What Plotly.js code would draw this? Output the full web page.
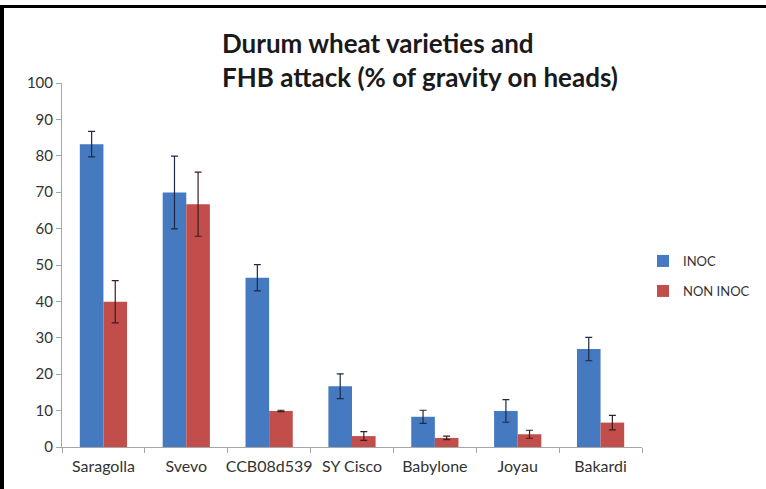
<!DOCTYPE html>
<html>
<head>
<meta charset="utf-8">
<script src="https://cdn.plot.ly/plotly-3.0.1.min.js"></script>
<style>
  html, body { margin: 0; padding: 0; background: #fff; }
  #wrap { position: relative; width: 766px; height: 489px; }
  #chart { width: 766px; height: 489px; }
  .bl { position: absolute; background: #000; }
</style>
</head>
<body>
<div id="wrap">
  <div id="chart"></div>
  <div class="bl" style="left:0;top:5px;width:4px;height:484px;"></div>
  <div class="bl" style="left:0;top:5px;width:766px;height:3px;"></div>
</div>
<script>
const categories = ["Saragolla", "Svevo", "CCB08d539", "SY Cisco", "Babylone", "Joyau", "Bakardi"];
const inoc = [83.2, 69.9, 46.5, 16.7, 8.3, 9.9, 26.9];
const inocErr = [3.5, 10.0, 3.6, 3.4, 1.8, 3.1, 3.2];
const nonInoc = [39.9, 66.7, 9.9, 3.0, 2.5, 3.5, 6.7];
const nonInocErr = [5.8, 8.8, 0.2, 1.2, 0.5, 1.1, 2.0];
const yTicks = [0, 10, 20, 30, 40, 50, 60, 70, 80, 90, 100];

const traces = [
  {
    type: 'bar', name: 'INOC', x: categories, y: inoc,
    marker: { color: '#4579c0' },
    error_y: { type: 'data', array: inocErr, visible: true, color: '#1f2a44', thickness: 1.2, width: 3.5 },
    legend: 'legend'
  },
  {
    type: 'bar', name: 'NON INOC', x: categories, y: nonInoc,
    marker: { color: '#c24e4b' },
    error_y: { type: 'data', array: nonInocErr, visible: true, color: '#3a1f1f', thickness: 1.2, width: 3.5 },
    legend: 'legend2'
  }
];

const legendCommon = {
  xref: 'paper', yref: 'paper', xanchor: 'left', yanchor: 'middle',
  font: { family: 'Lato, sans-serif', size: 13, color: '#333' },
  bgcolor: 'rgba(0,0,0,0)', itemwidth: 30
};

const layout = {
  width: 766, height: 489,
  paper_bgcolor: '#fff', plot_bgcolor: '#fff',
  margin: { l: 62, r: 123, t: 83, b: 42 },
  barmode: 'group', bargap: 0.43, bargroupgap: 0,
  title: {
    text: 'Durum wheat varieties and<br>FHB attack (% of gravity on heads)',
    font: { family: 'Lato, sans-serif', size: 26, color: '#1a1a1a', weight: 'bold' },
    xref: 'container', yref: 'container', x: 222 / 766, xanchor: 'left',
    y: 1 - 53 / 489, yanchor: 'top'
  },
  xaxis: {
    type: 'category', showgrid: false, zeroline: false,
    showline: true, linecolor: '#a6a6a6', linewidth: 1,
    ticks: 'outside', ticklen: 5, tickcolor: '#a6a6a6', tickson: 'boundaries',
    tickangle: 0, ticklabelstandoff: 5,
    tickfont: { family: 'Lato, sans-serif', size: 16, color: '#333' },
    fixedrange: true
  },
  yaxis: {
    range: [0, 100], tickvals: yTicks, showgrid: false, zeroline: false,
    showline: true, linecolor: '#a6a6a6', linewidth: 1,
    ticks: 'outside', ticklen: 5, tickcolor: '#a6a6a6',
    tickfont: { family: 'Lato, sans-serif', size: 15, color: '#333' },
    fixedrange: true
  },
  showlegend: true,
  legend: Object.assign({}, legendCommon),
  legend2: Object.assign({}, legendCommon)
};

// legend positions in paper coordinates (plot area: x 62..643, y 83..447)
const pxX = px => (px - 62) / (643 - 62);
const pxY = py => (447 - py) / (447 - 83);
layout.legend.x = pxX(643);
layout.legend.y = pxY(261);
layout.legend2.x = pxX(643);
layout.legend2.y = pxY(291);

Plotly.newPlot('chart', traces, layout, { displayModeBar: false, staticPlot: true });
</script>
</body>
</html>
